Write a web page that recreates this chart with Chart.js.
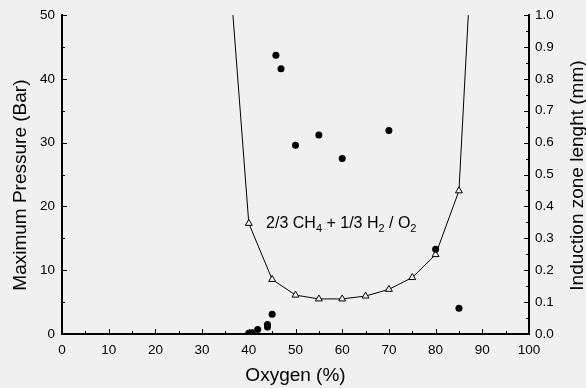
<!DOCTYPE html>
<html>
<head>
<meta charset="utf-8">
<script src="https://cdn.jsdelivr.net/npm/chart.js@4.4.1/dist/chart.umd.min.js"></script>
<style>
  html, body { margin: 0; padding: 0; background: #f0f0f0; }
  canvas { display: block; }
</style>
</head>
<body>
<canvas id="chart" width="586" height="388"></canvas>
<script>
// filled circles: maximum pressure (left axis, bar)
const pressureOxygen = [40, 40.7, 41.9, 44, 44, 45, 45.8, 46.9, 50, 55, 60, 70, 80, 85];
const pressureValues = [0.1, 0.2, 0.7, 1.1, 1.5, 3.1, 43.7, 41.6, 29.6, 31.2, 27.5, 31.9, 13.3, 4.05];

// open triangles: induction zone length (right axis, mm); first/last run off the top
const inductionOxygen = [36.6, 40, 45, 50, 55, 60, 65, 70, 75, 80, 85, 87];
const inductionValues = [1.0, 0.347, 0.171, 0.122, 0.11, 0.11, 0.119, 0.14, 0.177, 0.249, 0.449, 1.0];
const inductionMarks = [false, true, true, true, true, true, true, true, true, true, true, false];

const xLimits = [0, 100];
const pressureLimits = [0, 50];
const inductionLimits = [0, 1];

const fontFamily = "'Liberation Sans', Arial, sans-serif";

function toPoints(xs, ys) {
  return xs.map((x, i) => ({ x, y: ys[i] }));
}

// ticks point into the plot, with a short minor tick between majors
const inwardTicks = {
  id: "inwardTicks",
  afterDraw(chart) {
    const { ctx, chartArea, scales } = chart;
    ctx.save();
    ctx.strokeStyle = "#000";
    ctx.lineWidth = 1;

    function marks(scale) {
      const vals = scale.ticks.map(t => t.value);
      const out = [];
      vals.forEach((v, i) => {
        out.push({ v, len: 5 });
        if (i < vals.length - 1) out.push({ v: (v + vals[i + 1]) / 2, len: 3 });
      });
      return out;
    }

    marks(scales.x).forEach(m => {
      const px = Math.round(scales.x.getPixelForValue(m.v)) + 0.5;
      ctx.beginPath();
      ctx.moveTo(px, chartArea.bottom);
      ctx.lineTo(px, chartArea.bottom - m.len);
      ctx.stroke();
    });
    marks(scales.y).forEach(m => {
      const py = Math.round(scales.y.getPixelForValue(m.v)) + 0.5;
      ctx.beginPath();
      ctx.moveTo(chartArea.left, py);
      ctx.lineTo(chartArea.left + m.len, py);
      ctx.stroke();
    });
    marks(scales.y1).forEach(m => {
      const py = Math.round(scales.y1.getPixelForValue(m.v)) + 0.5;
      ctx.beginPath();
      ctx.moveTo(chartArea.right, py);
      ctx.lineTo(chartArea.right - m.len, py);
      ctx.stroke();
    });
    ctx.restore();
  }
};

// "2/3 CH4 + 1/3 H2 / O2" with subscripts
const mixtureLabel = {
  id: "mixtureLabel",
  afterDraw(chart) {
    const { ctx, scales } = chart;
    const parts = [
      ["2/3 CH", false], ["4", true], [" + 1/3 H", false], ["2", true], [" / O", false], ["2", true]
    ];
    let x = scales.x.getPixelForValue(43.7);
    const y = scales.y.getPixelForValue(16.56);
    ctx.save();
    ctx.fillStyle = "#000";
    ctx.textBaseline = "alphabetic";
    ctx.textAlign = "left";
    parts.forEach(([text, sub]) => {
      ctx.font = (sub ? "11px " : "16px ") + fontFamily;
      ctx.fillText(text, x, sub ? y + 4 : y);
      x += ctx.measureText(text).width;
    });
    ctx.restore();
  }
};

// right axis title reads bottom-to-top, like the left one
const rightTitle = {
  id: "rightTitle",
  afterDraw(chart) {
    const { ctx, chartArea } = chart;
    ctx.save();
    ctx.translate(578, (chartArea.top + chartArea.bottom) / 2 + 1);
    ctx.rotate(-Math.PI / 2);
    ctx.fillStyle = "#000";
    ctx.font = "19px " + fontFamily;
    ctx.textAlign = "center";
    ctx.textBaseline = "middle";
    ctx.fillText("Induction zone lenght (mm)", 0, 0);
    ctx.restore();
  }
};

const background = {
  id: "background",
  beforeDraw(chart) {
    const { ctx, width, height } = chart;
    ctx.save();
    ctx.fillStyle = "#f0f0f0";
    ctx.fillRect(0, 0, width, height);
    ctx.restore();
  }
};

new Chart(document.getElementById("chart"), {
  type: "scatter",
  data: {
    datasets: [
      {
        label: "Maximum Pressure",
        data: toPoints(pressureOxygen, pressureValues),
        yAxisID: "y",
        pointRadius: 3.5,
        pointBackgroundColor: "#000",
        pointBorderColor: "#000",
        pointBorderWidth: 0,
        showLine: false
      },
      {
        label: "Induction zone lenght",
        data: toPoints(inductionOxygen, inductionValues),
        yAxisID: "y1",
        showLine: true,
        borderColor: "#000",
        borderWidth: 1,
        tension: 0,
        pointStyle: "triangle",
        pointRadius: inductionMarks.map(m => (m ? 4 : 0)),
        pointBackgroundColor: "#f4f4f4",
        pointBorderColor: "#000",
        pointBorderWidth: 1
      }
    ]
  },
  options: {
    responsive: false,
    animation: false,
    layout: { padding: { top: 13, left: 0, right: 0, bottom: 0 } },
    plugins: {
      legend: { display: false },
      tooltip: { enabled: false }
    },
    scales: {
      x: {
        type: "linear",
        min: xLimits[0],
        max: xLimits[1],
        afterFit: scale => { scale.height = 54; },
        grid: { display: false, drawTicks: false },
        border: { display: true, color: "#000", width: 2 },
        ticks: { stepSize: 10, color: "#000", padding: 8, font: { family: fontFamily, size: 13.5 } },
        title: {
          display: true,
          text: "Oxygen (%)",
          color: "#000",
          padding: { top: 0, bottom: 5 },
          font: { family: fontFamily, size: 19, lineHeight: 0.8 }
        }
      },
      y: {
        type: "linear",
        position: "left",
        min: pressureLimits[0],
        max: pressureLimits[1],
        afterFit: scale => { scale.width = 62; },
        grid: { display: false, drawTicks: false },
        border: { display: true, color: "#000", width: 2 },
        ticks: { stepSize: 10, color: "#000", padding: 7, font: { family: fontFamily, size: 13.5 } },
        title: {
          display: true,
          text: "Maximum Pressure (Bar)    ",
          color: "#000",
          padding: { top: 13, bottom: 0 },
          font: { family: fontFamily, size: 19, lineHeight: 0.8 }
        }
      },
      y1: {
        type: "linear",
        position: "right",
        min: inductionLimits[0],
        max: inductionLimits[1],
        afterFit: scale => { scale.width = 57; },
        grid: { display: false, drawTicks: false },
        border: { display: true, color: "#000", width: 2 },
        ticks: {
          stepSize: 0.1,
          color: "#000",
          padding: 6,
          font: { family: fontFamily, size: 13.5 },
          callback: v => v.toFixed(1)
        },
        title: { display: false }
      }
    }
  },
  plugins: [background, inwardTicks, mixtureLabel, rightTitle]
});
</script>
</body>
</html>
